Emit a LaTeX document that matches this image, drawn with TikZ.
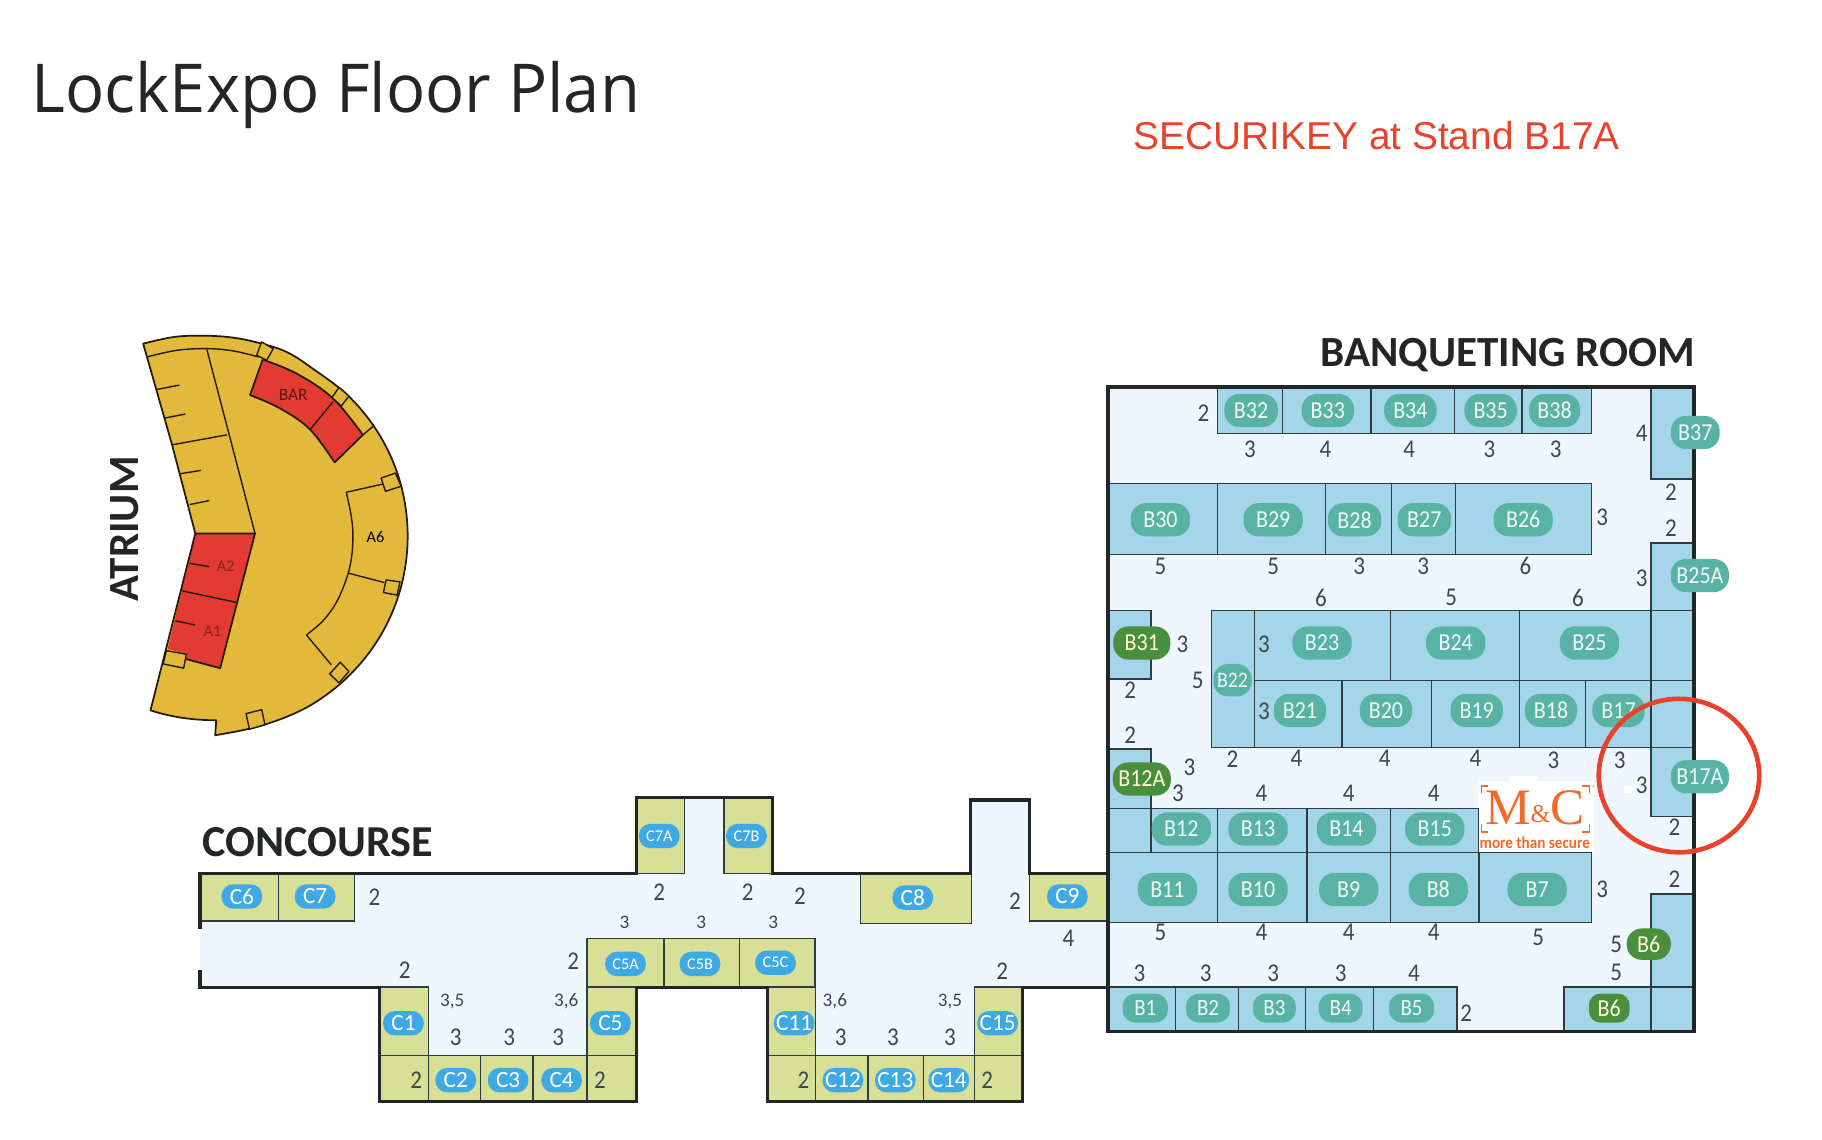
\documentclass[tikz,border=0pt]{standalone}
\usepackage{fontspec}
\setmainfont{Carlito}
\newfontfamily\narrowf[FakeStretch=0.9]{Carlito}
\newfontfamily\arialf{Liberation Sans}
\newfontfamily\timesf{Liberation Serif}
\newfontfamily\titlef{Open Sans}
\definecolor{corr}{HTML}{F0F6FE}
\definecolor{bbooth}{HTML}{A4D5E9}
\definecolor{cbooth}{HTML}{D8DF96}
\definecolor{teal}{HTML}{59B3A5}
\definecolor{gpill}{HTML}{4A8F3C}
\definecolor{bluep}{HTML}{3EA9E3}
\definecolor{wallc}{HTML}{232626}
\definecolor{thinc}{HTML}{2C3C40}
\definecolor{numc}{HTML}{40464A}
\definecolor{ayel}{HTML}{E3B93C}
\definecolor{ared}{HTML}{E33A34}
\definecolor{redc}{HTML}{E8432A}
\definecolor{orng}{HTML}{F26A2A}
\newcommand{\fs}[1]{\fontsize{#1}{#1}\selectfont}
\newcommand{\outerarc}{(188,100)(280,80)(370,76)(460,82)(545,100)(620,125)(690,169)(812,263)(906,385)(965,527)(985,680)(965,833)(906,975)(812,1097)(690,1191)(548,1250)(405,1280)}
\tikzset{
  bboothst/.style={draw=thinc,line width=1.2pt,fill=bbooth},
  cboothst/.style={draw=thinc,line width=1.2pt,fill=cbooth},
  wall/.style={draw=wallc,line width=2.8pt,line join=miter},
  tealpill/.style={fill=teal,text=white!90!teal,rounded corners=13pt,inner sep=0pt,minimum height=28.5pt,font=\narrowf\fs{21}},
  greenpill/.style={fill=gpill,text=white!85!yellow,rounded corners=13pt,inner sep=0pt,minimum height=28.5pt,font=\narrowf\fs{21}},
  bluepill/.style={fill=bluep,text=white,rounded corners=10pt,inner sep=0pt,minimum width=35pt,minimum height=21pt,font=\fs{20}},
  smallblue/.style={bluepill,font=\fs{14}},
  numst/.style={text=numc,inner sep=0pt,font=\narrowf\fs{22}},
  smallnum/.style={text=numc,inner sep=0pt,font=\fs{16.5}},
  atline/.style={draw=black!85!ayel,line width=1.2pt,line join=round},
  atouter/.style={atline,line width=1.5pt},
  head/.style={text=wallc,inner sep=0pt,font=\bfseries\fs{37.5}},
}
\begin{document}
\begin{tikzpicture}[x=1pt,y=-1pt]
\useasboundingbox (0,0) rectangle (1567,980.4);
\fill[white] (0,0) rectangle (1567,980.4);
% ---- titles
\node[anchor=west,inner sep=0pt,text=wallc,xscale=0.965,font=\titlef\fs{58}] (title) at (27,82) {LockExpo Floor Plan};
\node[anchor=west,inner sep=0pt,text=redc,font=\arialf\fs{33.4}] (secur) at (975,117) {SECURIKEY at Stand B17A};
\node[head,anchor=east,font=\bfseries\fs{37}] (banq) at (1458,305) {BANQUETING ROOM};
\node[head,anchor=west,font=\bfseries\fs{38}] (conc) at (174,724) {CONCOURSE};
\node[head,rotate=90,font=\bfseries\fs{37}] (atr) at (107,455) {ATRIUM};
% ---- atrium
\begin{scope}[shift={(69.5,267)},x=0.2854pt,y=-0.2854pt]
\fill[ayel] plot[smooth,tension=0.6] coordinates {\outerarc} -- (408,1235) .. controls (340,1235) and (270,1225) .. (210,1205) -- (345,672) -- (275,405) -- cycle;
\fill[ared] (345,672) -- (525,672) -- (420,1078) -- (315,1050) -- (320,1035) -- (262,1020) -- cycle;
\fill[ared] plot[smooth,tension=0.6] coordinates {(548,148)(650,190)(760,265)(850,375)} -- (765,458) -- plot[smooth,tension=0.6] coordinates {(765,458)(690,358)(600,295)(510,255)} -- cycle;
\draw[atouter] plot[smooth,tension=0.6] coordinates {\outerarc} -- (408,1235) .. controls (340,1235) and (270,1225) .. (210,1205) -- (345,672) -- (275,405) -- cycle;
\draw[atouter] (345,672) -- (525,672) -- (420,1078) -- (315,1050);
\draw[atline] (305,845) -- (470,880);
\draw[atouter] plot[smooth,tension=0.6] coordinates {(548,148)(650,190)(760,265)(850,375)} -- (765,458);
\draw[atouter] plot[smooth,tension=0.6] coordinates {(765,458)(690,358)(600,295)(510,255)} -- (548,148);
\draw[atline] (760,275) -- (692,358);
\draw[atline] (850,375) -- (880,350);
\draw[atline] plot[smooth,tension=0.6] coordinates {(200,140)(290,120)(380,115)(460,122)(535,140)};
\draw[atline] (380,118) -- (525,672);
\draw[atline] (275,405) -- (440,375);
\foreach \a/\b/\c/\d in {230/238/297/225,250/325/315/312,300/492/362/482,328/585/387/573,328/762/387/772,285/935/345/948}
  \draw[atline] (\a,\b) -- (\c,\d);
\draw[atline] plot[smooth,tension=0.6] coordinates {(800,548)(815,620)(820,680)(815,750)(800,810)(770,880)(730,935)(680,978)};
\draw[atline] (800,548) -- (915,522);
\draw[atline] (808,792) -- (915,820);
\draw[atline] (680,978) -- (755,1068);
\foreach \a/\b/\c/\d/\e/\f/\g/\h in {530/135/545/95/580/115/560/150, 778/232/808/258/785/288/757/262, 905/505/948/490/965/530/918/545, 920/812/962/818/953/858/912/850, 750/1095/782/1060/808/1088/778/1122, 498/1215/545/1203/555/1248/508/1262, 258/1025/318/1036/310/1078/248/1065}
  \draw[atline,fill=ayel] (\a,\b) -- (\c,\d) -- (\e,\f) -- (\g,\h) -- cycle;
\node[text=black!60!ared,inner sep=0pt,font=\fs{15}] (barl) at (640,255) {BAR};
\node[text=black!40!ared,inner sep=0pt,font=\fs{14}] (a2l) at (437,772) {A2};
\node[text=black!40!ared,inner sep=0pt,font=\fs{14}] (a1l) at (397,968) {A1};
\node[text=black,inner sep=0pt,font=\fs{14}] (a6l) at (888,682) {A6};
\end{scope}
% ---- concourse corridor
\fill[corr] (172,751) rectangle (953,849);
\fill[corr] (368,849) rectangle (505,908);
\fill[corr] (701,849) rectangle (838,908);
\fill[corr] (588,686) rectangle (622,751);
\fill[corr] (834.5,688) rectangle (885.5,751);
% concourse booths
\foreach \a/\b/\c/\d in {172/751/239.6/792, 239.6/751/305/792, 740/751/835.5/794, 885.5/751/953/792,
  547.5/686/588.5/751, 622.5/686/664.5/751,
  505/807/571/849, 571/807/636/849, 636/807/701/849,
  326.7/849/368.5/908, 326.7/908/368.5/947.5, 368.5/908/413/947.5, 413/908/458.5/947.5, 458.5/908/505/947.5, 505/908/547.5/947.5, 505/849/547.5/908,
  660/849/701.5/908, 660/908/701.5/947.5, 701.5/908/746.5/947.5, 746.5/908/794.5/947.5, 794.5/908/838/947.5, 838/908/879.5/947.5, 838/849/879.5/908}
  \draw[cboothst] (\a,\b) rectangle (\c,\d);
% concourse walls
\draw[wall] (172,799) -- (172,751) -- (547.5,751) -- (547.5,686) -- (664.5,686) -- (664.5,751) -- (834.5,751) -- (834.5,688) -- (885.5,688) -- (885.5,751) -- (953,751);
\draw[wall] (172,834) -- (172,849) -- (326.7,849) -- (326.7,947.5) -- (547.5,947.5) -- (547.5,849) -- (660,849) -- (660,947.5) -- (879.5,947.5) -- (879.5,849) -- (953,849);
% ---- banqueting room
\fill[corr] (953,333) rectangle (1457,887);
\foreach \a/\b/\c/\d in {1047/333/1103/373, 1103/333/1179/373, 1179/333/1251/373, 1251/333/1309/373, 1309/333/1368.5/373,
  1420/333/1457/412,
  953/416/1047/477, 1047/416/1140/477, 1140/416/1196.5/477, 1196.5/416/1252/477, 1252/416/1368.5/477,
  1420/467/1457/525,
  953/525/990/584,
  1042/525/1079/643,
  1079/525/1196/585, 1196/525/1307/585, 1307/525/1420/585, 1420/525/1457/585,
  1079/585/1154/643, 1154/585/1231/643, 1231/585/1307/643, 1307/585/1363.5/643, 1363.5/585/1420/643, 1420/585/1457/643,
  1420/643/1457/702,
  953/644/990/695.5, 953/695.5/990/733, 990/695.5/1047/733, 1047/695.5/1124/733, 1124/695.5/1196/733, 1196/695.5/1271.5/733,
  953/733/1047/793.5, 1047/733/1124/793.5, 1124/733/1196/793.5, 1196/733/1272/793.5, 1272/733/1368.5/793.5,
  1420/769/1457/849, 1420/849/1457/887, 1345/849/1420/887,
  953/849/1011/887, 1011/849/1065/887, 1065/849/1123/887, 1123/849/1181/887, 1181/849/1253/887}
  \draw[bboothst] (\a,\b) rectangle (\c,\d);
% logo ground
\fill[white] (1272,672) rectangle (1371,733);
\fill[white] (1298,667) rectangle (1323,674);
\fill[white] (1397,676) rectangle (1406,682);
\draw[draw=wallc,line width=3pt] (953,333) rectangle (1457,887);
% ---- pills
\foreach \t/\x/\y/\w in {B32/1076/353/46, B33/1142/353/45, B34/1213/353/45, B35/1282/353/45, B38/1337/353/44, B37/1458/372/42,
  B30/998/447/51, B29/1095/447/51, B28/1165/447/46, B27/1225/447/46, B26/1310/447/51, B25A/1462/495/50,
  B23/1137/553/51, B24/1252/553/51, B25/1367/553/51, B21/1118/611/45, B20/1192/611/45, B19/1270/611/45, B18/1334/611/45, B17/1392/611/45, B17A/1462/668/50,
  B12/1016/713/51, B13/1082/713/51, B14/1158/713/51, B15/1234/713/51, B11/1004/765/51, B10/1082/765/51, B9/1160/765/51, B8/1237/765/51, B7/1322/765/51}
  \node[tealpill,minimum width=\w pt] (\t) at (\x,\y) {\t};
\node[tealpill,minimum width=33pt,minimum height=28pt,font=\narrowf\fs{19}] (B22) at (1060,585) {B22};
\foreach \t/\x/\w in {B1/985/39, B2/1039/38, B3/1096/37, B4/1153/38, B5/1214/39}
  \node[tealpill,minimum width=\w pt,minimum height=25pt,rounded corners=11pt,font=\narrowf\fs{20}] (\t) at (\x,867) {\t};
\node[greenpill,minimum width=49pt] (B31) at (982,553) {B31};
\node[greenpill,minimum width=50pt] (B12A) at (982,670) {B12A};
\node[greenpill,minimum width=38pt,minimum height=27pt] (B6a) at (1418,812) {B6};
\node[greenpill,minimum width=35pt,minimum height=25pt,rounded corners=10pt] (B6b) at (1384,867) {B6};
\foreach \t/\x/\y in {C6/208/771, C7/271/771, C8/785/772, C9/918/771, C1/347/880, C5/525/880, C11/683/880, C15/858/880, C2/392/929, C3/437/929, C4/483/929, C12/725/929, C13/770/929, C14/816/929}
  \node[bluepill] (\t) at (\x,\y) {\t};
\foreach \t/\x/\y in {C7A/567/719, C7B/642/719, C5A/538/829, C5B/602/829, C5C/667/828}
  \node[smallblue] (\t) at (\x,\y) {\t};
% ---- numbers
\foreach \t/\x/\y [count=\i] in {2/1035/355, 3/1075/386, 4/1140/386, 4/1212/386, 3/1281/386, 3/1338/386, 4/1412/373, 2/1437/423, 2/1437/454, 3/1378/445, 5/998/487, 5/1095/487, 3/1169/487, 3/1224/487, 6/1312/487, 3/1412/497, 6/1136/514, 5/1248/514, 6/1357/514, 3/1017/554, 3/1087/554, 5/1030/585, 3/1087/612, 2/972/594, 2/972/632, 2/1060/653, 4/1115/652, 4/1191/652, 4/1269/652, 3/1336/654, 3/1393/654, 3/1412/675, 3/1023/660, 3/1013/682, 4/1085/682, 4/1160/682, 4/1233/682, 2/1440/711, 2/1440/756, 3/1378/765, 5/998/802, 4/1085/802, 4/1160/802, 4/1233/802, 5/1323/806, 5/1390/812, 5/1390/836, 3/980/837, 3/1037/837, 3/1095/837, 3/1153/837, 4/1216/837, 2/1261/871, 4/919/807, 2/322/772, 2/348/834, 3/392/892, 3/438/892, 3/480/892, 2/493/827, 2/567/767, 2/643/767, 2/688/771, 2/873/775, 2/862/835, 3/723/892, 3/768/892, 3/817/892, 2/358/929, 2/516/929, 2/691/929, 2/849/929}
  \node[numst] (num\i) at (\x,\y) {\t};
\foreach \x/\y [count=\i] in {537/793, 603/793, 665/793}
  \node[smallnum] (snum\i) at (\x,\y) {3};
\node[smallnum] (s35a) at (389,861) {3,5};
\node[smallnum] (s36a) at (487,861) {3,6};
\node[smallnum] (s36b) at (718,861) {3,6};
\node[smallnum] (s35b) at (817,861) {3,5};
% ---- logo
\node[text=orng,inner sep=0pt,font=\timesf\fs{44}] (logo) at (1320,695) {M{\fs{22}\raisebox{2pt}{\&}}C};
\node[text=orng,inner sep=0pt,font=\narrowf\bfseries\fs{14.5}] (logot) at (1320,725) {more than secure};
\node[text=orng,inner sep=0pt,font=\fs{6}] (logor) at (1371,678) {®};
\draw[orng,line width=1.2pt] (1274,682) -- (1274,676) -- (1280,676);
\draw[orng,line width=1.2pt] (1361,676) -- (1367,676) -- (1367,682);
\draw[orng,line width=1.2pt] (1274,709) -- (1274,715.5) -- (1280,715.5);
\draw[orng,line width=1.2pt] (1361,715.5) -- (1367,715.5) -- (1367,709);
% ---- highlight
\draw[redc,line width=4pt] (1444,667) ellipse [x radius=69,y radius=66];
\end{tikzpicture}
\end{document}
